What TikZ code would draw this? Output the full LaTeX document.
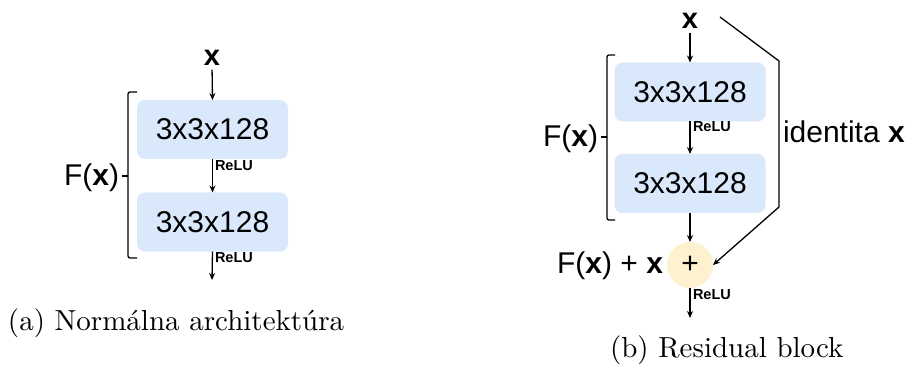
\documentclass[tikz,border=0pt]{standalone}
\usepackage{fontspec}
\newfontfamily\arial{Liberation Sans}
\newfontfamily\capfont{lmroman10-regular}[Extension=.otf]
\usetikzlibrary{arrows.meta}
\definecolor{convfill}{HTML}{DAE8FC}
\definecolor{sumfill}{HTML}{FDF1CF}
\tikzset{
  every node/.style={inner sep=0pt, outer sep=0pt},
  conv/.style={fill=convfill, rounded corners=8pt, minimum width=151pt, minimum height=59pt,
    font=\arial\fontsize{30}{36}\selectfont},
  sumnode/.style={circle, fill=sumfill, minimum size=46pt, font=\arial\fontsize{30}{36}\selectfont},
  inp/.style={font=\arial\bfseries\fontsize{29}{34}\selectfont},
  lbl/.style={font=\arial\fontsize{30}{36}\selectfont},
  relu/.style={font=\arial\bfseries\fontsize{14.5}{16}\selectfont, anchor=north west},
  subcaption/.style={font=\capfont\fontsize{29}{35}\selectfont, anchor=base west},
  flow/.style={line width=1.3pt, -{Stealth[length=7pt,width=6pt]}},
  brace/.style={line width=1.3pt, rounded corners=2pt},
}
\begin{document}
\begin{tikzpicture}[x=1pt, y=-1pt]
\useasboundingbox (0,0) rectangle (909,371);

% ---- (a) plain block ----
\node[inp] (ax) at (212,58) {x};
\node[conv] (ac1) at (212.5,129.5) {3x3x128};
\node[conv] (ac2) at (212.5,222) {3x3x128};
\coordinate (aout) at (212,280);
\draw[flow, shorten <=4pt] (ax.south) -- (ac1.north);
\draw[flow] (ac1.south) -- (ac2.north);
\draw[flow] (ac2.south) -- (aout);
\node[relu] (ar1) at (215,161) {ReLU};
\node[relu] (ar2) at (215,253) {ReLU};
% bracket around the two convolutions
\draw[brace] (137,92) -- (128,92) -- (128,258) -- (137,258);
\draw[line width=1.3pt] (128,176) -- (122,176);
\node[lbl, anchor=east] (afx) at (119,178) {F(\textbf{x})};
\node[subcaption] (capa) at (8,330) {(a) Normálna architektúra};

% ---- (b) residual block ----
\node[inp] (bx) at (690,21) {x};
\node[conv] (bc1) at (690,92) {3x3x128};
\node[conv] (bc2) at (690,183.5) {3x3x128};
\node[sumnode] (plus) at (690,265) {+};
\coordinate (bout) at (690,318);
\draw[flow, shorten <=4pt] (bx.south) -- (bc1.north);
\draw[flow] (bc1.south) -- (bc2.north);
\draw[flow] (bc2.south) -- (plus.north);
\draw[flow] (plus.south) -- (bout);
\node[relu] (br1) at (693,122) {ReLU};
\node[relu] (br2) at (693,290) {ReLU};
% skip connection
\coordinate (skip0) at (720,17);
\coordinate (skip1) at (779,61);
\coordinate (skip2) at (779,207);
\draw[flow] (skip0) -- (skip1) -- (skip2) -- (plus.east);
\node[lbl, anchor=west] (bid) at (783,132) {identita \textbf{x}};
% bracket around the two convolutions
\draw[brace] (615,55) -- (607,55) -- (607,220) -- (615,220);
\draw[line width=1.3pt] (607,137) -- (601,137);
\node[lbl, anchor=east] (bfx) at (598,139) {F(\textbf{x})};
\node[lbl, anchor=east] (bsum) at (663,266) {F(\textbf{x}) + \textbf{x}};
\node[subcaption] (capb) at (610,357) {(b) Residual block};
\end{tikzpicture}
\end{document}
